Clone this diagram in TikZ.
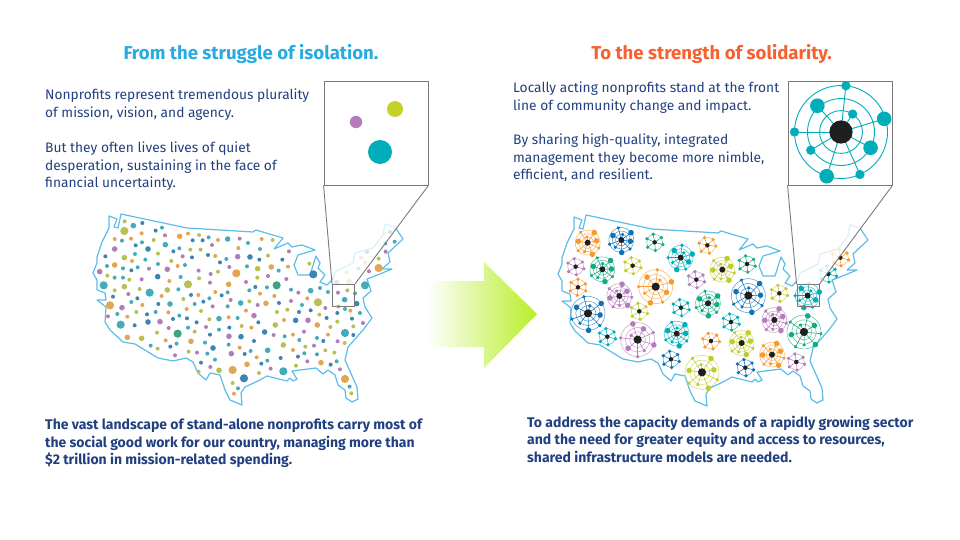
\documentclass[tikz,border=0pt]{standalone}
\usepackage{fontspec}
\setmainfont{Fira Sans}
\usetikzlibrary{calc}
\definecolor{HeadBlue}{HTML}{29ABE2}
\definecolor{HeadOrange}{HTML}{F7602F}
\definecolor{TextClr}{HTML}{21407F}
\definecolor{MapClr}{HTML}{5BBDEA}
\definecolor{ZoomClr}{HTML}{7A7A7A}
\definecolor{dT}{HTML}{43ABB9}
\definecolor{dB}{HTML}{3C84B4}
\definecolor{dO}{HTML}{E2A552}
\definecolor{dP}{HTML}{B07DB8}
\definecolor{dY}{HTML}{B8C054}
\definecolor{dG}{HTML}{3CA383}
\definecolor{hT}{HTML}{00AEB9}
\definecolor{hB}{HTML}{0F72B8}
\definecolor{hO}{HTML}{F7992B}
\definecolor{hP}{HTML}{B57CBC}
\definecolor{hY}{HTML}{BFCC2E}
\definecolor{hG}{HTML}{14AB80}
\definecolor{ArrowClr}{HTML}{B8EE28}
\tikzset{
  headtxt/.style={font=\fontsize{18.6}{22}\selectfont\bfseries,anchor=base},
  bodytxt/.style={font=\fontsize{13.75}{17.5}\selectfont,text=TextClr,align=left,anchor=north west,inner sep=0pt},
  boldtxt/.style={font=\fontsize{14}{17.8}\selectfont\bfseries,text=TextClr,align=left,anchor=north west,inner sep=0pt},
  mapline/.style={draw=MapClr,line width=1.2pt,line join=round},
  zoomline/.style={draw=ZoomClr,line width=0.9pt},
  zoombox/.style={draw=ZoomClr,line width=0.9pt,fill=white,minimum size=104pt,inner sep=0pt},
  zoomsrc/.style={draw=ZoomClr,line width=0.9pt,minimum size=22pt,inner sep=0pt}
}
% outline of the map, in picture coordinates
\newcommand{\usamap}{(109,216) -- (117,219) -- (114,227) -- (118,228) -- (121,214) -- (187,228) -- (253,232) -- (256,230) -- (283,238)
  -- (274,249) -- (288,243) -- (292,247) -- (302,245) -- (315,250) -- (298,255) -- (294,265) -- (298,275) -- (310,275) -- (316,256)
  -- (320,263) -- (318,268) -- (325,275) -- (320,282) -- (327,285) -- (333,279) -- (335,272) -- (353,263) -- (355,253) -- (373,248)
  -- (383,235) -- (385,224) -- (395,227) -- (403,239) -- (388,253) -- (390,262) -- (382,269) -- (392,269) -- (375,276) -- (367,279)
  -- (371,291) -- (363,298) -- (365,307) -- (372,318) -- (363,330) -- (348,347) -- (345,360) -- (357,387) -- (358,399) -- (352,402)
  -- (346,398) -- (345,390) -- (338,385) -- (335,375) -- (328,370) -- (323,374) -- (316,368) -- (292,371) -- (297,379) -- (293,381)
  -- (290,378) -- (287,381) -- (267,376) -- (258,381) -- (245,387) -- (241,393) -- (242,405) -- (230,400) -- (225,390) -- (220,375)
  -- (210,373) -- (206,380) -- (198,373) -- (193,362) -- (186,358) -- (173,361) -- (158,358) -- (135,344) -- (123,342) -- (110,330)
  -- (105,322) -- (106,307) -- (97,300) -- (106,300) -- (105,293) -- (97,290) -- (97,280) -- (93,273) -- (97,263) -- (97,257)
  -- (102,242) -- (109,228) -- cycle}
% one hub with its rings, spokes and members: x, y, outer radius, colour, rotation
\newcommand{\hubbig}[5]{%
  \begin{scope}[shift={(#1,#2)},rotate=#5,x=#3pt,y=#3pt]
    \foreach \rr in {.46,.72,1}
      \draw[#4!70,line width=.55pt] (0,0) circle (\rr);
    \foreach \aa/\rr/\ss in {84/1/1.8,132/.76/2.8,57/.46/1.8,17/.97/2.8,180/1/1.8,211/.76/1.8,332/.72/2.8,252/1/2.8,294/1/1.8} {
      \draw[#4,line width=.55pt] (0,0) -- (\aa:\rr);
      \fill[#4] (\aa:\rr) circle (\ss pt);
    }
    \fill[black!88] (0,0) circle (.24);
  \end{scope}}
\newcommand{\hubsmall}[5]{%
  \begin{scope}[shift={(#1,#2)},rotate=#5,x=#3pt,y=#3pt]
    \draw[#4!70,line width=.55pt] (0,0) circle (.92);
    \foreach \aa/\rr in {100/.95,35/.95,-15/1,-85/.95,-145/1,155/1} {
      \draw[#4,line width=.55pt] (0,0) -- (\aa:\rr);
      \fill[#4] (\aa:\rr) circle (1.8pt);
    }
    \fill[black!88] (0,0) circle (.26);
  \end{scope}}

\begin{document}
\begin{tikzpicture}[x=1pt,y=-1pt]
\useasboundingbox (0,0) rectangle (960,540);

\node[headtxt,text=HeadBlue] (headL) at (251,60) {From the struggle of isolation.};
\node[headtxt,text=HeadOrange] (headR) at (711.5,60) {To the strength of solidarity.};

\node[bodytxt] (bodyLa) at (45,89) {Nonprofits represent tremendous plurality\\of mission, vision, and agency.};
\node[bodytxt] (bodyLb) at (45,142) {But they often lives lives of quiet\\desperation, sustaining in the face of\\financial uncertainty.};
\node[bodytxt] (bodyRa) at (513,82) {Locally acting nonprofits stand at the front\\line of community change and impact.};
\node[bodytxt] (bodyRb) at (513,134) {By sharing high-quality, integrated\\management they become more nimble,\\efficient, and resilient.};
\node[boldtxt] (footL) at (45,418.5) {The vast landscape of stand-alone nonprofits carry most of\\the social good work for our country, managing more than\\\$2 trillion in mission-related spending.};
\node[boldtxt] (footR) at (527,415.5) {To address the capacity demands of a rapidly growing sector\\and the need for greater equity and access to resources,\\shared infrastructure models are needed.};

% maps
\draw[mapline] \usamap;
\begin{scope}[shift={(465,1)}]
  \draw[mapline] \usamap;
\end{scope}

% scattered dots, read off at 3x
\begin{scope}[shift={(90,200)},x=.3333pt,y=-.3333pt]
\foreach \c/\x/\y in {dY/104/64,dB/157/69,dT/216/83,dB/197/92,dO/155/100,dP/225/106,dO/294/101,dY/327/105,dT/356/112,dB/308/121,dB/338/121,dO/384/120,dP/449/116,dO/515/117,dY/548/120,dT/474/129,dO/74/117,dT/96/122,dO/123/116,dY/191/120,dB/137/136,dT/156/127,dP/366/135,dT/268/145,dB/250/154,dY/301/149,dY/332/149,dO/445/144,dT/510/147,dP/597/154,dT/135/162,dY/204/161,dB/46/169,dO/126/183,dT/166/179,dP/278/169,dB/306/172,dB/354/165,dO/376/168,dT/409/177,dY/534/167,dB/508/179,dB/577/179,dB/390/187,dY/658/191,dY/244/183,dT/204/192,dT/51/198,dT/99/205,dT/143/202,dO/263/198,dT/285/195,dP/177/206,dP/418/201,dT/471/199,dO/594/200,dB/124/211,dP/326/212,dY/384/215,dP/362/222,dT/566/212,dP/837/214,dY/52/227,dT/74/233,dT/99/233,dY/118/239,dP/155/238,dT/272/231,dY/327/235,dY/502/233,dP/534/228,dP/589/237,dO/238/243,dP/360/248,dP/468/246,dB/496/261,dT/531/262,dY/74/271,dY/149/267,dT/265/268,dT/478/271,dT/603/269,dT/690/264,dT/714/276,dP/625/278,dP/115/282,dO/376/276,dT/413/277,dO/510/281,dB/69/290,dO/215/288,dB/303/285,dO/325/285,dB/395/286,dO/553/288,dB/142/295,dY/280/297,dT/358/295,dP/422/300,dO/652/295,dT/124/306,dB/205/312,dB/340/305,dT/314/312,dY/478/304,dB/567/309,dP/603/303,dO/157/315,dP/368/319,dT/413/319,dP/503/315,dT/636/315,dP/706/324,dO/290/327,dY/139/336,dO/235/337,dY/333/333,dO/468/332,dY/561/336,dY/592/329,dB/627/336,dB/662/331,dB/742/339,dP/744/278,dY/772/271,dT/765/327,dO/781/332,dY/745/320,dT/795/280,dT/82/342,dP/54/349,dO/112/350,dB/171/343,dT/197/336,dT/268/347,dB/249/357,dB/291/355,dY/358/358,dO/416/352,dT/443/354,dY/688/344,dB/710/354,dB/786/356,dT/810/339,dO/582/360,dY/742/365,dB/134/376,dB/320/367,dB/505/367,dP/819/369,dY/455/378,dY/721/381,dY/790/379,dP/236/384,dT/294/383,dP/348/381,dB/418/383,dO/484/383,dT/387/389,dY/314/395,dP/642/395,dY/201/398,dO/609/404,dP/551/405,dT/584/409,dO/714/404,dB/790/405,dB/360/404,dT/681/414,dO/227/421,dB/492/423,dT/628/420,dB/700/423,dP/743/424,dY/764/429,dT/345/428,dT/260/431,dT/182/437,dB/241/440,dT/416/434,dY/646/440,dP/672/437,dY/203/446,dO/449/443,dO/609/450,dY/706/451,dT/482/453,dY/296/455,dP/321/458,dT/352/461,dB/464/462,dT/643/460,dY/733/458,dB/624/470,dT/681/463,dP/255/466,dO/500/472,dB/572/474,dT/375/479,dB/333/488,dT/532/482,dP/652/484,dT/740/484,dB/514/491,dY/618/497,dB/722/494,dP/361/501,dP/542/506,dP/750/508,dY/326/515,dY/507/519,dY/428/549,dT/444/565,dO/432/581,dT/779/560,dY/784/580,dT/886/130,dT/914/125,dY/866/176,dP/887/155,dB/900/96,dB/831/156,dO/813/173,dY/825/188,dT/805/205,dO/770/217}
  \fill[\c] (\x,\y) circle (2pt);
\foreach \c/\x/\y in {dT/130/77,dO/269/109,dT/413/117,dT/226/134,dP/74/147,dB/174/147,dY/103/173,dP/443/170,dB/480/171,dO/74/195,dP/232/208,dY/503/206,dO/544/201,dP/29/215,dB/203/230,dY/103/260,dO/416/253,dY/232/270,dT/662/272,dT/240/312,dT/452/309,dO/528/310,dP/96/323,dT/764/299,dB/800/311,dT/387/356,dP/492/347,dB/617/361,dP/654/361,dB/174/366,dP/210/365,dO/682/375,dY/556/375,dB/524/396,dO/112/412,dY/155/415,dP/417/409,dB/453/410,dO/303/424,dY/580/435,dB/369/444,dT/533/451,dP/424/461,dO/693/488,dO/471/493,dY/387/511,dP/740/247,dY/777/245}
  \fill[\c] (\x,\y) circle (2.8pt);
\foreach \c/\x/\y in {dY/103/93,dB/670/223,dO/866/204,dO/439/220,dT/41/256,dY/294/253,dG/560/256,dT/825/256,dT/179/278,dY/684/307,dO/60/316,dT/92/374,dT/765/399,dG/263/401,dO/428/510,dT/580/514,dB/462/535,dO/765/537}
  \fill[\c] (\x,\y) circle (4.1pt);
\end{scope}

% hubs, read off at 3x
\begin{scope}[shift={(550,200)},x=.3333pt,y=-.3333pt]
\foreach \x/\y/\c/\a in {314/127/hG/0,472/136/hO/10,77/200/hP/0,248/197/hY/0,591/192/hG/0,439/239/hP/0,84/262/hO/-10,688/280/hY/0,393/323/hT/0,268/334/hY/0,543/366/hT/0,172/410/hT/0,483/423/hO/10,739/486/hP/0,363/478/hB/0,586/503/hB/0,871/173/hO/0,835/222/hT/0}
  \hubsmall{\x}{\y}{8.6}{\c}{\a};
\foreach \x/\y/\c/\a in {113/128/hO/40,214/120/hB/20,392/173/hT/0,157/208/hG/30,517/209/hY/50,208/288/hP/60,474/310/hG/20,773/287/hT/0,673/360/hP/50,380/401/hT/30,575/429/hY/40,666/464/hO/50}
  \hubbig{\x}{\y}{12.5}{\c}{\a};
\foreach \x/\y/\c/\a in {317/260/hO/0,595/287/hB/30,114/340/hB/20,762/396/hG/60,263/419/hP/90,456/517/hY/40}
  \hubbig{\x}{\y}{17}{\c}{\a};
\end{scope}

% squares on the maps and the fading wedge under each enlargement
\coordinate (wedgeLa) at (324,185);
\coordinate (wedgeLb) at (428,185);
\coordinate (wedgeLc) at (354,284);
\coordinate (wedgeLd) at (333,284);
\coordinate (wedgeRa) at (788,185);
\coordinate (wedgeRb) at (892,185);
\coordinate (wedgeRc) at (819,284);
\coordinate (wedgeRd) at (797,284);
\fill[white,opacity=.78] (wedgeLa) -- (wedgeLb) -- (wedgeLc) -- (wedgeLd) -- cycle;
\fill[white,opacity=.78] (wedgeRa) -- (wedgeRb) -- (wedgeRc) -- (wedgeRd) -- cycle;

\node[zoombox] (zoomL) at (376,133) {};
\node[zoomsrc] (srcL) at (343.5,295.5) {};
\draw[zoomline] (zoomL.south west) -- (srcL.north west);
\draw[zoomline] (zoomL.south east) -- (srcL.north east);

\node[zoombox] (zoomR) at (840,133) {};
\node[zoomsrc] (srcR) at (808,295.5) {};
\draw[zoomline] (zoomR.south west) -- (srcR.north west);
\draw[zoomline] (zoomR.south east) -- (srcR.north east);

% enlargements
\fill[hP] (356,122) circle (6.2);
\fill[hY!90!yellow] (395,109) circle (8);
\fill[hT] (380,152) circle (12);

\begin{scope}[shift={(841,132)},x=46.5pt,y=46.5pt]
  \foreach \rr in {.46,.72,1}
    \draw[hT,line width=.9pt] (0,0) circle (\rr);
  \foreach \aa/\rr/\ss in {84/1/.1,132/.76/.157,57/.46/.1,17/.97/.157,180/1/.1,211/.76/.1,332/.72/.157,252/1/.157,294/1/.1} {
    \draw[hT,line width=.9pt] (0,0) -- (\aa:\rr);
    \fill[hT] (\aa:\rr) circle (\ss);
  }
  \fill[black!88] (0,0) circle (.25);
\end{scope}

% arrow
\shade[left color=white,right color=ArrowClr] (427,281) -- (484,281) -- (484,262) -- (537,314) -- (484,368) -- (484,347) -- (427,347) -- cycle;

\end{tikzpicture}
\end{document}
